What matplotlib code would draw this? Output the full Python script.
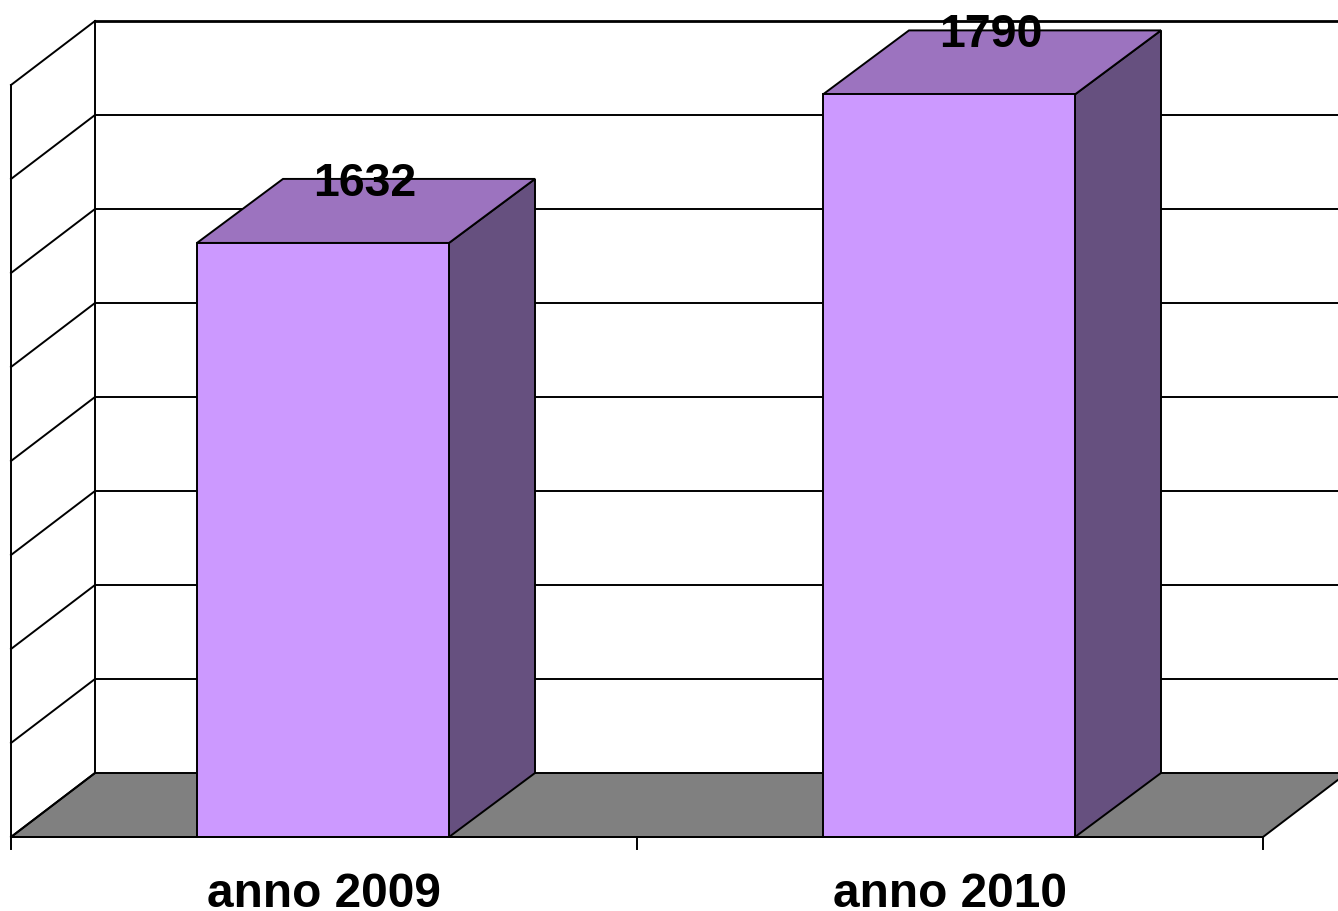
import matplotlib
matplotlib.use("Agg")
import matplotlib.pyplot as plt
from matplotlib.patches import Polygon

categories = ["anno 2009", "anno 2010"]
values = [1632, 1790]
y_ticks = [1000, 1100, 1200, 1300, 1400, 1500, 1600, 1700, 1800]

W, H = 1338, 911
PX_X, X0 = 626.0, 11.0          # pixels per category, left edge of the floor
PX_Y, Y0 = 0.94, 837.0          # pixels per value unit, baseline pixel row
WALL_DX = 84 / PX_X             # wall depth in category units
DX = 86 / PX_X                  # bar depth in category units
DY = 64 / PX_Y                  # depth in value units
BAR_W = 252 / PX_X
BASE = y_ticks[0]
TOP = y_ticks[-1]
N = len(categories)

plt.rcParams["font.family"] = ["Liberation Sans", "DejaVu Sans"]
fig = plt.figure(figsize=(W / 100, H / 100), dpi=100, facecolor="white")
ax = fig.add_axes([0, 0, 1, 1])
ax.set_xlim(-0.5 - X0 / PX_X, -0.5 + (W - X0) / PX_X)
ax.set_ylim(BASE - (H - Y0) / PX_Y, BASE + Y0 / PX_Y)
ax.axis("off")

lw = 1.4
ec = "black"
xl, xr = -0.5, N - 0.5

# floor
ax.add_patch(Polygon([(xl, BASE), (xl + WALL_DX, BASE + DY), (xr + WALL_DX, BASE + DY), (xr, BASE)],
                     closed=True, fc="#808080", ec=ec, lw=lw, zorder=1))
# back wall and gridlines
ax.plot([xl + WALL_DX, xl + WALL_DX], [BASE + DY, TOP + DY], color=ec, lw=lw, zorder=2)
ax.plot([xl, xl], [BASE, TOP], color=ec, lw=lw, zorder=2)
for t in y_ticks:
    ax.plot([xl, xl + WALL_DX], [t, t + DY], color=ec, lw=lw, zorder=2)
    if t > BASE:
        ax.plot([xl + WALL_DX, xr + WALL_DX], [t + DY, t + DY], color=ec,
                lw=2.0 if t == TOP else lw, zorder=2)

# bars
for i, (cat, v) in enumerate(zip(categories, values)):
    x0, x1 = i - 0.5 + (1 - BAR_W) / 2 - 1 / PX_X, i - 0.5 + (1 + BAR_W) / 2 - 1 / PX_X
    ax.add_patch(Polygon([(x1, BASE), (x1 + DX, BASE + DY), (x1 + DX, v + DY), (x1, v)],
                         closed=True, fc="#66507F", ec=ec, lw=lw, zorder=3))
    ax.add_patch(Polygon([(x0, v), (x0 + DX, v + DY), (x1 + DX, v + DY), (x1, v)],
                         closed=True, fc="#9C73BF", ec=ec, lw=lw, zorder=3))
    ax.add_patch(Polygon([(x0, BASE), (x0, v), (x1, v), (x1, BASE)],
                         closed=True, fc="#CC99FF", ec=ec, lw=lw, zorder=4))
    ax.text((x0 + x1) / 2 + 42 / PX_X, v + DY - 17 / PX_Y, str(v), ha="center", va="baseline",
            fontsize=33.5, fontweight="bold", color="black", zorder=5)
    ax.text(i, BASE - 70 / PX_Y, cat, ha="center", va="baseline",
            fontsize=34.5, fontweight="bold", color="black", zorder=5)

# axis line and ticks
ax.plot([xl, xr], [BASE, BASE], color=ec, lw=lw, zorder=5)
for k in range(N + 1):
    ax.plot([xl + k, xl + k], [BASE, BASE - 12 / PX_Y], color=ec, lw=lw, zorder=5)

fig.savefig("out.png", dpi=100)
